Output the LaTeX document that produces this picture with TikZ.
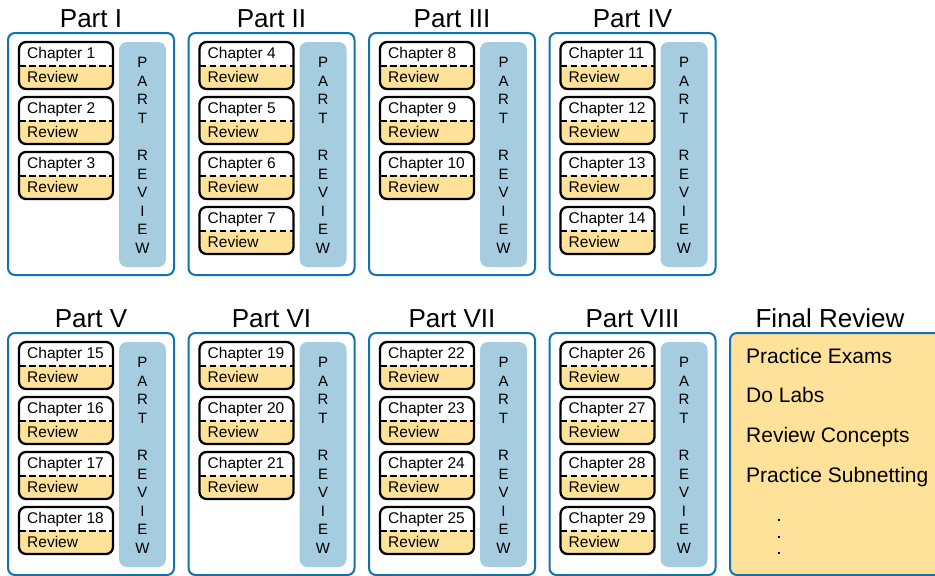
\documentclass[tikz,border=0pt]{standalone}
\usepackage{fontspec}
\setmainfont{Liberation Sans}
\definecolor{partblue}{RGB}{16,114,176}
\definecolor{barblue}{RGB}{166,204,224}
\definecolor{revyellow}{RGB}{254,226,154}
\begin{document}
\begin{tikzpicture}[x=1pt,y=-1pt,
  partbox/.style={draw=partblue, line width=2pt, rounded corners=7pt, minimum width=166pt, minimum height=242pt, inner sep=0pt},
  finalbox/.style={draw=partblue, fill=revyellow, line width=2pt, rounded corners=7pt, minimum width=230pt, minimum height=242pt, inner sep=0pt},
  partbar/.style={fill=barblue, rounded corners=8pt, minimum width=47pt, minimum height=225pt, inner sep=0pt},
  barletter/.style={font=\fontsize{15}{18}\selectfont, inner sep=0pt, anchor=base},
  titletext/.style={font=\fontsize{26}{30}\selectfont, inner sep=0pt, anchor=base},
  chap/.style={draw=black, line width=2.3pt, rounded corners=7pt, minimum width=94pt, minimum height=47pt, inner sep=0pt,
    path picture={\fill[revyellow] (path picture bounding box.west) rectangle (path picture bounding box.south east);
      \draw[line width=2pt, dash pattern=on 6.5pt off 3.5pt] (path picture bounding box.west) -- (path picture bounding box.east);}},
  chaptext/.style={font=\fontsize{15.5}{18}\selectfont, inner sep=0pt, anchor=base west},
  finaltext/.style={font=\fontsize{21}{25}\selectfont, inner sep=0pt, anchor=base west},
  dottext/.style={font=\fontsize{14}{16}\bfseries, inner sep=0pt, anchor=base}]
\useasboundingbox (0,0) rectangle (935,576);
\foreach \pn/\rom/\col/\row/\first/\cnt in {1/I/0/0/1/3, 2/II/1/0/4/4, 3/III/2/0/8/3, 4/IV/3/0/11/4, 5/V/0/1/15/4, 6/VI/1/1/19/3, 7/VII/2/1/22/4, 8/VIII/3/1/26/4} {
  \pgfmathsetmacro\ox{\col*180.5}
  \pgfmathsetmacro\oy{\row*300}
  \node[partbox] (p\pn) at (\ox+91, \oy+154) {};
  \node[titletext] (t\pn) at (\ox+91, \oy+27) {Part \rom};
  \node[partbar] (r\pn) at (\ox+142.5, \oy+154.5) {};
  \foreach \L/\k in {P/0,A/1,R/2,T/3,R/5,E/6,V/7,I/8,E/9,W/10} {
    \node[barletter] (r\pn l\k) at (\ox+142.5, \oy+67.4+18.6*\k) {\L};
  }
  \foreach \k in {1,...,\cnt} {
    \pgfmathtruncatemacro\ch{\first+\k-1}
    \node[chap] (c\ch) at (\ox+66, \oy+65.5+55*\k-55) {};
    \node[chaptext] (ct\ch) at (\ox+27, \oy+58.5+55*\k-55) {Chapter \ch};
    \node[chaptext] (cr\ch) at (\ox+27, \oy+82.5+55*\k-55) {Review};
  }
}
\node[finalbox] (fr) at (845,454) {};
\node[titletext] (ft) at (830,327) {Final Review};
\node[finaltext] (f1) at (746,363) {Practice Exams};
\node[finaltext] (f2) at (746,402.5) {Do Labs};
\node[finaltext] (f3) at (746,442) {Review Concepts};
\node[finaltext] (f4) at (746,482.5) {Practice Subnetting};
\node[dottext] (d1) at (779,521.5) {.};
\node[dottext] (d2) at (779,538) {.};
\node[dottext] (d3) at (779,554.5) {.};
\end{tikzpicture}
\end{document}
